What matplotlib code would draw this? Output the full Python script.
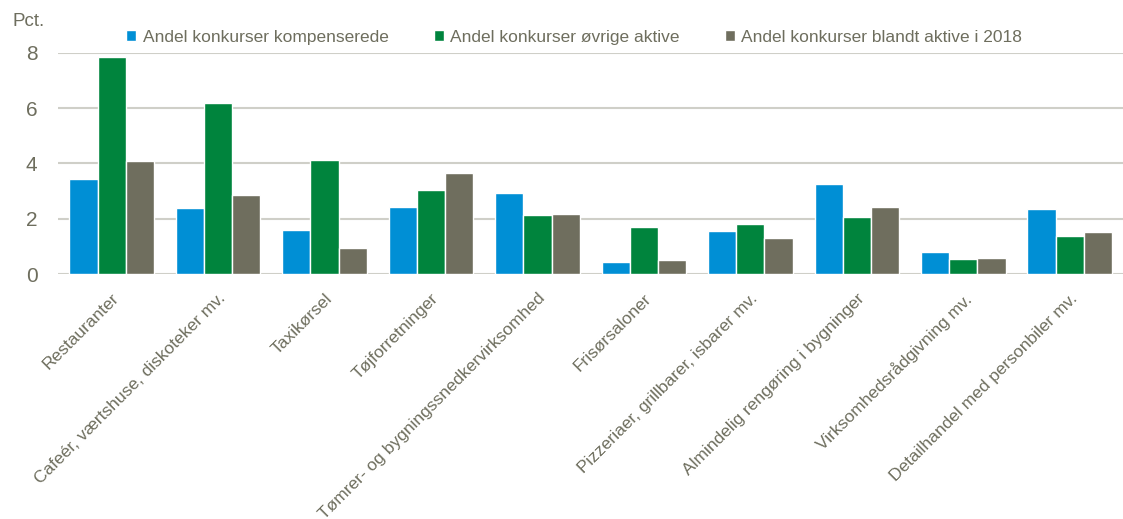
import numpy as np
import matplotlib.pyplot as plt

categories = ["Restauranter", "Cafeér, værtshuse, diskoteker mv.", "Taxikørsel",
              "Tøjforretninger", "Tømrer- og bygningssnedkervirksomhed", "Frisørsaloner",
              "Pizzeriaer, grillbarer, isbarer mv.", "Almindelig rengøring i bygninger",
              "Virksomhedsrådgivning mv.", "Detailhandel med personbiler mv."]
kompenserede = [3.44, 2.38, 1.58, 2.43, 2.92, 0.45, 1.56, 3.25, 0.79, 2.37]
oevrige = [7.86, 6.18, 4.13, 3.03, 2.13, 1.69, 1.82, 2.08, 0.53, 1.37]
blandt_aktive = [4.08, 2.85, 0.95, 3.67, 2.17, 0.51, 1.29, 2.42, 0.58, 1.53]
series_names = ["Andel konkurser kompenserede", "Andel konkurser øvrige aktive",
                "Andel konkurser blandt aktive i 2018"]

txt = "#6E6E5E"
colors = ["#008FD5", "#00843D", "#6F6E5E"]
plt.rcParams['font.family'] = ['Liberation Sans', 'DejaVu Sans']

fig = plt.figure(figsize=(11.23, 5.19), dpi=100)
ax = fig.add_axes([0.052, 0.472, 0.948, 0.426])

x = np.arange(len(categories))
w = 0.265
for i, (vals, name) in enumerate(zip([kompenserede, oevrige, blandt_aktive], series_names)):
    ax.bar(x + (i - 1) * w, vals, w, color=colors[i], edgecolor="white", linewidth=1,
           label=name, zorder=3)

ax.set_xlim(-0.5, len(categories) - 0.5)
ax.set_ylim(0, 8)
ax.set_yticks([0, 2, 4, 6, 8])
ax.yaxis.grid(True, color="#CFCFC8", linewidth=1.5, zorder=0)
for s in ax.spines.values():
    s.set_visible(False)
ax.tick_params(axis="both", length=0, colors=txt)
ax.tick_params(axis="y", labelsize=15, pad=15)
ax.set_xticks(x)
ax.set_xticklabels(categories, rotation=45, ha="right", rotation_mode="anchor",
                   fontsize=12.5, color=txt)
ax.tick_params(axis="x", pad=12)

fig.text(0.011, 0.958, "Pct.", fontsize=13.5, color=txt, va="center")
leg = ax.legend(loc="lower left", bbox_to_anchor=(0.057, 1.005), ncol=3, frameon=False,
                fontsize=12.5, labelcolor=txt, handlelength=0.6, handleheight=0.6,
                handletextpad=0.35, columnspacing=2.6, borderaxespad=0.0)

fig.savefig("out.png", dpi=100, facecolor="white")
